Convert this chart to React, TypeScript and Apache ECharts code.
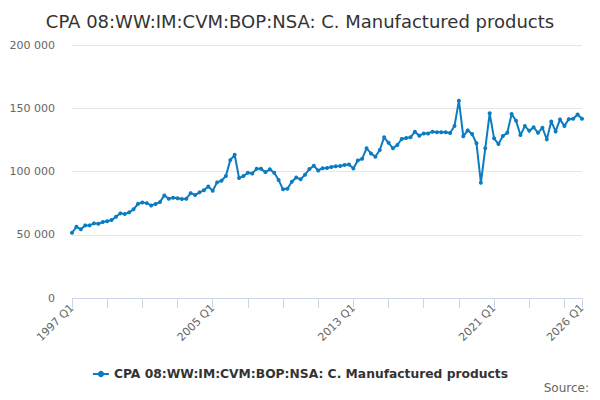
import React, { useEffect, useRef } from "react";
import * as echarts from "echarts";

const TITLE = "CPA 08:WW:IM:CVM:BOP:NSA: C. Manufactured products";
const SERIES_NAME = "CPA 08:WW:IM:CVM:BOP:NSA: C. Manufactured products";

const startYear = 1997;
const quarters: string[] = [];
for (let y = startYear; y <= 2026; y++) {
  for (let q = 1; q <= 4; q++) {
    if (y === 2026 && q > 1) break;
    quarters.push(`${y} Q${q}`);
  }
}

const values: number[] = [
  51600, 56300, 54300, 57400, 57400, 59000, 58700, 60000,
  60600, 61600, 64200, 66900, 66400, 67700, 70100, 74400,
  75500, 75000, 73200, 74300, 75800, 81100, 78500, 79300,
  78800, 78200, 78500, 82900, 81400, 83500, 85100, 88200,
  84800, 91400, 92700, 96400, 109000, 113200, 94800, 96400,
  99000, 98500, 102100, 102100, 99500, 101700, 99000, 93200,
  85900, 86300, 91900, 95300, 93800, 97500, 101900, 104500,
  100800, 102600, 102800, 103600, 104100, 104400, 105200, 105600,
  102300, 108700, 110100, 118300, 114300, 111700, 117000, 127000,
  122700, 118300, 121000, 125700, 126500, 127000, 131500, 128300,
  130100, 130100, 131500, 131000, 131000, 131000, 130400, 135900,
  156000, 127800, 132500, 129600, 122300, 91100, 118300, 146000,
  126200, 121700, 128000, 130600, 145400, 140100, 128800, 135900,
  132200, 134900, 130600, 134600, 125400, 139600, 131700, 141200,
  135900, 141400, 141700, 145100, 141700,
];

const yTicks = { min: 0, max: 200000, interval: 50000 };
const LINE_COLOR = "#0b7cc1";
const FONT = "'DejaVu Sans', 'Lucida Grande', sans-serif";

export default function App() {
  const ref = useRef<HTMLDivElement>(null);
  useEffect(() => {
    if (!ref.current) return;
    const chart = echarts.init(ref.current, undefined, { renderer: "svg" });
    const last = quarters.length - 1;
    chart.setOption({
      animation: false,
      textStyle: { fontFamily: FONT },
      title: {
        text: TITLE,
        left: "center",
        top: 7,
        textStyle: { fontFamily: FONT, fontSize: 18, fontWeight: "normal", color: "#333333" },
      },
      grid: { left: 72, right: 18, top: 45, bottom: 102, containLabel: false },
      legend: {
        bottom: 15,
        left: "center",
        itemWidth: 16,
        itemHeight: 8,
        itemGap: 4,
        textStyle: { fontFamily: FONT, fontSize: 12.3, fontWeight: "bold", color: "#333333" },
        data: [SERIES_NAME],
      },
      graphic: [
        {
          type: "text",
          right: 11,
          top: 382,
          style: { text: "Source:", fontFamily: FONT, fontSize: 12, fill: "#666666" },
        },
      ],
      xAxis: {
        type: "category",
        data: quarters,
        boundaryGap: false,
        axisLine: { lineStyle: { color: "#ccd6eb", width: 1 } },
        axisTick: {
          length: 10,
          lineStyle: { color: "#ccd6eb" },
          interval: (i: number) => i % 8 === 0 || i === last,
        },
        axisLabel: {
          rotate: 45,
          margin: 8,
          fontSize: 11,
          color: "#666666",
          fontFamily: FONT,
          interval: (i: number) => i % 32 === 0 || i === last,
        },
        splitLine: { show: false },
      },
      yAxis: {
        type: "value",
        min: yTicks.min,
        max: yTicks.max,
        interval: yTicks.interval,
        axisLine: { show: false },
        axisTick: { show: false },
        axisLabel: {
          fontSize: 11,
          color: "#666666",
          fontFamily: FONT,
          margin: 17,
          formatter: (v: number) => String(v).replace(/\B(?=(\d{3})+(?!\d))/g, " "),
        },
        splitLine: { lineStyle: { color: "#e6e6e6", width: 1 } },
      },
      series: [
        {
          name: SERIES_NAME,
          type: "line",
          data: values,
          symbol: "circle",
          symbolSize: 4,
          showSymbol: true,
          showAllSymbol: true,
          lineStyle: { color: LINE_COLOR, width: 2 },
          itemStyle: { color: LINE_COLOR },
        },
      ],
    });
    return () => chart.dispose();
  }, []);
  return <div ref={ref} style={{ width: 600, height: 400, position: "absolute", left: 0, top: 0 }} />;
}
